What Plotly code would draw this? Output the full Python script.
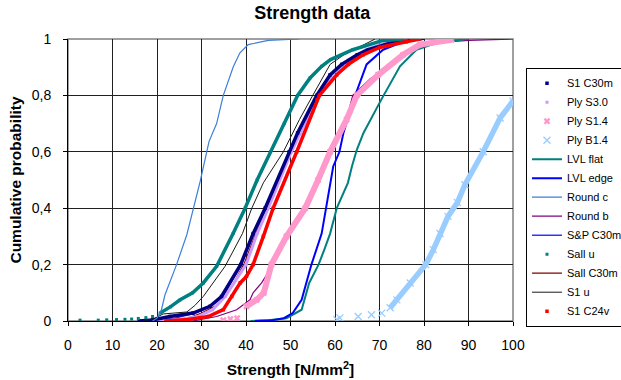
import plotly.graph_objects as go

# ---------------- data ----------------
x_ticks = [0, 10, 20, 30, 40, 50, 60, 70, 80, 90, 100]
y_tick_vals = [0, 0.2, 0.4, 0.6, 0.8, 1]
y_tick_text = ["0", "0,2", "0,4", "0,6", "0,8", "1"]

s1_c30m_x = [16, 19, 22.9, 28.1, 31.9, 34.5, 38.8, 41.6, 44.3, 49.7, 51.6, 55.9, 58.9, 61.5, 65, 67.5, 73.5, 77]
s1_c30m_p = [0, 0.004, 0.016, 0.028, 0.052, 0.087, 0.2, 0.31, 0.4, 0.6, 0.667, 0.8, 0.873, 0.91, 0.944, 0.962, 0.99, 1]

ply_s30_x = [20, 25, 29, 32.5, 35.3, 40.0, 42.5, 45, 50.2, 52.2, 56.3, 59.3, 63, 67, 73]
ply_s30_p = [0, 0.005, 0.015, 0.04, 0.087, 0.2, 0.31, 0.4, 0.6, 0.667, 0.8, 0.873, 0.925, 0.962, 0.995]

ply_s14_x = [34.9, 36.5, 38, 40.1, 42.4, 44, 45.7, 49.1, 53.3, 56.2, 58.9, 62.6, 64.9, 69.7, 75.3, 79.1, 86.2]
ply_s14_p = [0.003, 0.007, 0.01, 0.052, 0.075, 0.1, 0.2, 0.3, 0.4, 0.5, 0.6, 0.714, 0.8, 0.873, 0.944, 0.98, 0.997]

ply_b14_x = [60.4, 61.1, 65.2, 68.2, 70.5, 72.4, 73.9, 76.9, 80.4, 82.1, 83.6, 85.4, 87.5, 89.2, 93.3, 97.1, 100]
ply_b14_p = [0.005, 0.011, 0.016, 0.022, 0.028, 0.047, 0.075, 0.135, 0.2, 0.253, 0.31, 0.371, 0.42, 0.483, 0.6, 0.72, 0.78]

lvl_flat_x = [41, 45, 49.1, 52.5, 54.2, 56.3, 57.6, 58.9, 60.4, 62.9, 63.8, 64.9, 66.4, 70.4, 74.6, 78.3, 83.6, 90]
lvl_flat_p = [0, 0.003, 0.01, 0.04, 0.135, 0.2, 0.253, 0.31, 0.4, 0.49, 0.548, 0.607, 0.667, 0.785, 0.903, 0.962, 0.99, 1]

lvl_edge_x = [42, 46, 48.5, 50.5, 52.5, 54.7, 57, 58, 59.6, 61, 61.9, 64.3, 67.1, 70.8, 75.3, 80]
lvl_edge_p = [0, 0.003, 0.01, 0.028, 0.075, 0.2, 0.31, 0.4, 0.548, 0.6, 0.667, 0.79, 0.91, 0.962, 0.99, 1]

round_c_x = [19, 20, 21, 21.8, 24.4, 26.7, 28.2, 29.7, 31.7, 33.4, 34.9, 37.1, 38.6, 40.5, 45, 52]
round_c_p = [0, 0.01, 0.04, 0.093, 0.2, 0.306, 0.4, 0.495, 0.637, 0.7, 0.8, 0.9, 0.95, 0.98, 0.995, 1]

round_b_x = [28, 29.7, 33.4, 37.9, 40.9, 41.6, 43.5, 44.5, 45.8, 49.2, 52.5, 56.3, 59.2, 62.3, 64, 68, 72.4, 76.9, 82, 90, 100]
round_b_p = [0, 0.005, 0.016, 0.04, 0.075, 0.1, 0.135, 0.16, 0.2, 0.3, 0.37, 0.5, 0.6, 0.7, 0.8, 0.86, 0.903, 0.962, 0.986, 0.995, 1]

sp_c30m_x = [17, 20, 24, 28.5, 32, 34.8, 38.9, 41.8, 44.5, 49.8, 51.7, 56, 59, 61.8, 65.5, 68, 74, 78]
sp_c30m_p = [0, 0.003, 0.01, 0.028, 0.052, 0.087, 0.2, 0.31, 0.4, 0.6, 0.667, 0.8, 0.873, 0.91, 0.944, 0.962, 0.99, 1]

sall_u_x = [2.7, 6.8, 8.7, 10.9, 12.8, 14.3, 15.8, 17.5, 19.0, 20.7, 23, 25.2, 28, 30.4, 33.4, 37.1, 39.8, 42.5, 45.5, 48.6, 51.6, 54.4, 57, 59, 64, 70.8, 76]
sall_u_p = [0.003, 0.003, 0.004, 0.005, 0.006, 0.007, 0.009, 0.012, 0.016, 0.028, 0.05, 0.075, 0.1, 0.135, 0.194, 0.31, 0.4, 0.5, 0.6, 0.7, 0.8, 0.862, 0.903, 0.927, 0.962, 0.995, 1]

sall_c30m_x = [18, 22, 27, 30, 33, 35.5, 39.5, 42.2, 44.7, 49.8, 51.8, 56, 59, 62, 66, 69, 74, 78]
sall_c30m_p = [0, 0.003, 0.01, 0.028, 0.052, 0.087, 0.2, 0.31, 0.4, 0.6, 0.667, 0.8, 0.873, 0.91, 0.944, 0.962, 0.99, 1]

s1_u_x = [17, 19.5, 21.4, 26.7, 28.5, 30.4, 35.3, 39.2, 41.3, 43.9, 48.4, 52, 55, 56.6, 58.9, 62, 66.3, 69]
s1_u_p = [0, 0.01, 0.025, 0.032, 0.055, 0.087, 0.194, 0.31, 0.4, 0.49, 0.6, 0.714, 0.8, 0.844, 0.91, 0.944, 0.98, 1]

s1_c24v_x = [22, 27, 29.7, 31.5, 34.9, 36.8, 38.7, 40.1, 41.6, 43.9, 46.1, 51.4, 56, 56.5, 60.4, 63, 66.3, 70, 76, 79]
s1_c24v_p = [0, 0.005, 0.012, 0.016, 0.04, 0.087, 0.135, 0.158, 0.2, 0.3, 0.4, 0.6, 0.785, 0.8, 0.873, 0.91, 0.944, 0.97, 0.99, 1]

FONT = "Liberation Sans, Arial, sans-serif"

fig = go.Figure()


def line_trace(x, y, name, color, width, rank, legend=True):
    fig.add_trace(go.Scatter(
        x=x, y=y, name=name, mode="lines", legendrank=rank, showlegend=legend,
        line=dict(color=color, width=width), hoverinfo="skip"))


def marker_series(x, y, name, color, band_w, band_start, symbol, size, rank, thin=False):
    # dense markers in the original look like a thick band
    fig.add_trace(go.Scatter(
        x=x[band_start:], y=y[band_start:], mode="lines", showlegend=False,
        line=dict(color=color, width=band_w), hoverinfo="skip"))
    marker = dict(color=color, symbol=symbol, size=size)
    if thin:
        marker["line"] = dict(color=color, width=1.3)
    else:
        marker["line"] = dict(width=0)
    fig.add_trace(go.Scatter(
        x=x, y=y, name=name, mode="markers", legendrank=rank, marker=marker))


# z-order: bottom to top
line_trace(round_b_x, round_b_p, "Round b", "#800080", 1.2, 8)
line_trace(sp_c30m_x, sp_c30m_p, "S&P C30m", "#3333FF", 1.5, 9)
line_trace(sall_c30m_x, sall_c30m_p, "Sall C30m", "#800000", 1.2, 11)
marker_series(ply_s30_x, ply_s30_p, "Ply S3.0", "#CC99FF", 3, 0, "square", 3, 2)
marker_series(s1_c30m_x, s1_c30m_p, "S1 C30m", "#000080", 3.5, 0, "square", 3.5, 1)
line_trace(s1_u_x, s1_u_p, "S1 u", "#1a1a1a", 1, 12)
marker_series(sall_u_x, sall_u_p, "Sall u", "#008080", 3.5, 9, "square", 3, 10)
line_trace(lvl_flat_x, lvl_flat_p, "LVL flat", "#008080", 2, 5)
line_trace(lvl_edge_x, lvl_edge_p, "LVL edge", "#0000FF", 2, 6)
line_trace(round_c_x, round_c_p, "Round c", "#3A7FDB", 1.2, 7)
marker_series(ply_s14_x, ply_s14_p, "Ply S1.4", "#FF99CC", 6, 3, "x", 6, 3)
marker_series(ply_b14_x, ply_b14_p, "Ply B1.4", "#99CCFF", 5.5, 5, "x-thin", 7, 4, thin=True)
marker_series(s1_c24v_x, s1_c24v_p, "S1 C24v", "#FF0000", 3.5, 0, "square", 3.5, 13)

axis_common = dict(
    showgrid=True, gridcolor="#202020", gridwidth=1,
    showline=True, linecolor="#000000", linewidth=1,
    ticks="outside", ticklen=4, tickcolor="#000000",
    tickfont=dict(family=FONT, size=14, color="#000000"),
    zeroline=False, fixedrange=True,
)

fig.update_layout(
    width=621, height=380,
    margin=dict(l=68, r=108, t=39, b=59, autoexpand=False),
    paper_bgcolor="white", plot_bgcolor="white",
    font=dict(family=FONT, color="#000000"),
    title=dict(text="<b>Strength data</b>", x=0.503, xref="container", xanchor="center",
               y=1 - 13 / 380, yref="container", yanchor="middle",
               font=dict(family=FONT, size=18, color="#000000")),
    xaxis=dict(range=[0, 100], tickvals=x_ticks,
               title=dict(text="<b>Strength [N/mm<sup>2</sup>]</b>", standoff=12,
                          font=dict(family=FONT, size=15.5, color="#000000")),
               ticklabelstandoff=7, **axis_common),
    yaxis=dict(range=[0, 1], tickvals=y_tick_vals, ticktext=y_tick_text,
               title=dict(text="<b>Cumulative probability</b>", standoff=6,
                          font=dict(family=FONT, size=15.5, color="#000000")),
               ticklabelstandoff=9, **axis_common),
    legend=dict(x=(526 - 68) / 445, xanchor="left", y=(321.3 - 68) / 282, yanchor="top",
                bordercolor="#000000", borderwidth=1, bgcolor="white",
                font=dict(family=FONT, size=11, color="#000000"),
                tracegroupgap=0, itemwidth=30),
    shapes=[dict(type="rect", xref="paper", yref="paper", x0=0, x1=1, y0=0, y1=1,
                 line=dict(color="#808080", width=1.5), layer="below")],
    showlegend=True,
)

fig.write_html("out.html", config={"displayModeBar": False},
               post_script="document.body.style.margin='0';")
